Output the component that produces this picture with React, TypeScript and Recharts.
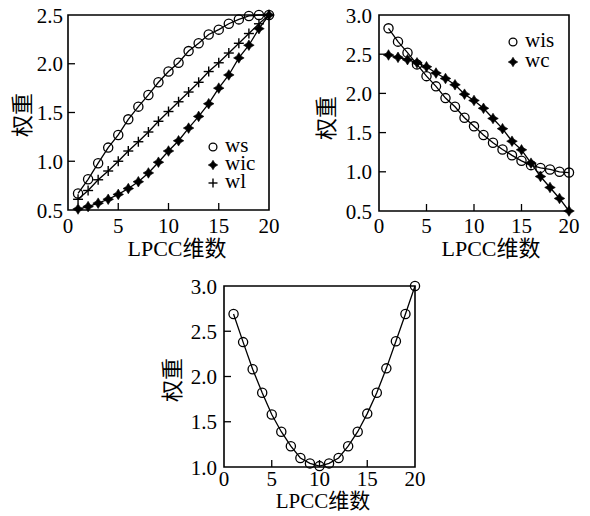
import { LineChart, Line, XAxis, YAxis, ReferenceArea } from 'recharts';

// ─── Data ──────────────────────────────────────────────────────────────────────
const dims = [1, 2, 3, 4, 5, 6, 7, 8, 9, 10, 11, 12, 13, 14, 15, 16, 17, 18, 19, 20];

const ws  = [0.67, 0.815, 0.98, 1.14, 1.27, 1.43, 1.56, 1.68, 1.81, 1.92, 2.01, 2.13, 2.21, 2.3, 2.35, 2.41, 2.455, 2.49, 2.5, 2.5];
const wic = [0.51, 0.535, 0.57, 0.61, 0.66, 0.72, 0.79, 0.88, 0.99, 1.105, 1.21, 1.34, 1.46, 1.59, 1.75, 1.885, 2.06, 2.19, 2.36, 2.5];
const wl  = [0.61, 0.7, 0.81, 0.9, 1.0, 1.105, 1.2, 1.3, 1.41, 1.51, 1.61, 1.71, 1.81, 1.92, 2.01, 2.11, 2.21, 2.31, 2.41, 2.5];

const wis = [2.83, 2.66, 2.52, 2.37, 2.22, 2.09, 1.94, 1.83, 1.69, 1.58, 1.47, 1.37, 1.285, 1.21, 1.14, 1.085, 1.05, 1.03, 1.0, 0.99];
const wc  = [2.49, 2.46, 2.43, 2.39, 2.34, 2.26, 2.19, 2.11, 1.99, 1.91, 1.81, 1.68, 1.55, 1.39, 1.28, 1.11, 0.94, 0.8, 0.66, 0.5];

const wm  = [2.69, 2.38, 2.08, 1.82, 1.58, 1.39, 1.23, 1.1, 1.04, 1.01, 1.04, 1.1, 1.23, 1.39, 1.59, 1.82, 2.09, 2.39, 2.69, 3.0];

const xTicks   = [0, 5, 10, 15, 20];
const yTicksA  = [0.5, 1.0, 1.5, 2.0, 2.5];
const yTicksB  = [0.5, 1.0, 1.5, 2.0, 2.5, 3.0];
const yTicksC  = [1.0, 1.5, 2.0, 2.5, 3.0];

const X_LABEL = 'LPCC维数';
const Y_LABEL = '权重';

const FONT = '"Liberation Serif", "Times New Roman", "Noto Sans CJK SC", serif';
const CJK_FONT = '"Liberation Serif", "Noto Sans CJK SC", serif';

type Kind = 'circle' | 'star' | 'plus';

// ─── Markers ───────────────────────────────────────────────────────────────────
function Marker({ kind, cx, cy, s = 1 }: { kind: Kind; cx: number; cy: number; s?: number }) {
  if (cx == null || cy == null) return null;
  if (kind === 'circle') {
    return <circle cx={cx} cy={cy} r={4.6 * s} fill="none" stroke="#000" strokeWidth={1.3} />;
  }
  if (kind === 'plus') {
    const r = 5 * s;
    return (
      <g stroke="#000" strokeWidth={1.4}>
        <line x1={cx - r} x2={cx + r} y1={cy} y2={cy} />
        <line x1={cx} x2={cx} y1={cy - r} y2={cy + r} />
      </g>
    );
  }
  const o = 5.3 * s, i = 2 * s;
  const d = `M${cx},${cy - o} L${cx + i},${cy - i} L${cx + o},${cy} L${cx + i},${cy + i} L${cx},${cy + o} L${cx - i},${cy + i} L${cx - o},${cy} L${cx - i},${cy - i} Z`;
  return <path d={d} fill="#000" stroke="#000" strokeWidth={0.6} />;
}

// ─── Ticks (drawn inward, like the source figure) ──────────────────────────────
const makeXTick = (dy: number, ends: number[]) => (props: any) => {
  const { x, y, payload } = props;
  const v = payload.value;
  return (
    <g>
      {!ends.includes(v) && <line x1={x} x2={x} y1={y} y2={y - 7} stroke="#000" strokeWidth={1.3} />}
      <text x={x} y={y + dy} textAnchor="middle" fontFamily={FONT} fontSize={21} fill="#000">{v}</text>
    </g>
  );
};

const makeYTick = (gap: number, ends: number[]) => (props: any) => {
  const { x, y, payload } = props;
  const v = payload.value;
  return (
    <g>
      {!ends.includes(v) && <line x1={x} x2={x + 7} y1={y} y2={y} stroke="#000" strokeWidth={1.3} />}
      <text x={x - gap} y={y} dy="0.36em" textAnchor="end" fontFamily={FONT} fontSize={21} fill="#000">
        {Number(v).toFixed(1)}
      </text>
    </g>
  );
};

// ─── One panel ─────────────────────────────────────────────────────────────────
interface Series { key: string; kind: Kind; }

function Panel({
  left, top, width, height, margin, data, series, yDomain, yTicks, xDy, yGap,
}: {
  left: number; top: number; width: number; height: number;
  margin: { top: number; right: number; bottom: number; left: number };
  data: any[]; series: Series[]; yDomain: [number, number]; yTicks: number[];
  xDy: number; yGap: number;
}) {
  return (
    <div style={{ position: 'absolute', left, top }}>
      <LineChart width={width} height={height} data={data} margin={margin}>
        <XAxis
          dataKey="d" type="number" domain={[0, 20]} ticks={xTicks}
          axisLine={false} tickLine={false} tickSize={0} tickMargin={0} height={30}
          tick={makeXTick(xDy, [0, 20])} interval={0}
        />
        <YAxis
          type="number" domain={yDomain} ticks={yTicks}
          axisLine={false} tickLine={false} tickSize={0} tickMargin={0} width={50}
          tick={makeYTick(yGap, yDomain)} interval={0}
        />
        {series.map(s => (
          <Line
            key={s.key} dataKey={s.key} type="linear" stroke="#000" strokeWidth={1.3}
            isAnimationActive={false}
            dot={(p: any) => <Marker key={`${s.key}-${p.index}`} kind={s.kind} cx={p.cx} cy={p.cy} />}
            activeDot={false}
          />
        ))}
        <ReferenceArea
          x1={0} x2={20} y1={yDomain[0]} y2={yDomain[1]}
          fill="none" fillOpacity={0} stroke="#000" strokeWidth={1.6} ifOverflow="visible"
        />
      </LineChart>
    </div>
  );
}

function TextAt({ x, y, text, rotate = false, size = 22 }: { x: number; y: number; text: string; rotate?: boolean; size?: number }) {
  return (
    <div
      style={{
        position: 'absolute', left: x, top: y, whiteSpace: 'nowrap', lineHeight: 1,
        fontFamily: CJK_FONT, fontSize: size, color: '#000',
        transform: `translate(-50%, -50%)${rotate ? ' rotate(-90deg)' : ''}`,
      }}
    >
      {text}
    </div>
  );
}

function LegendBox({ x, y, rowH, items }: { x: number; y: number; rowH: number; items: { label: string; kind: Kind }[] }) {
  return (
    <div style={{ position: 'absolute', left: x, top: y }}>
      {items.map(it => (
        <div key={it.label} style={{ display: 'flex', alignItems: 'center', height: rowH, lineHeight: 1 }}>
          <svg width={16} height={16} style={{ marginRight: 4 }}>
            <Marker kind={it.kind} cx={8} cy={8} s={it.kind === 'circle' ? 0.85 : 0.9} />
          </svg>
          <span
            style={{
              display: 'inline-block', height: rowH - 2, lineHeight: `${rowH - 2}px`, overflow: 'visible',
              fontFamily: FONT, fontSize: 21, position: 'relative', top: -2,
            }}
          >
            {it.label}
          </span>
        </div>
      ))}
    </div>
  );
}

export default function App() {
  const dataA = dims.map((d, i) => ({ d, ws: ws[i], wic: wic[i], wl: wl[i] }));
  const dataB = dims.map((d, i) => ({ d, wis: wis[i], wc: wc[i] }));
  const dataC = dims.map((d, i) => ({ d, w: wm[i] }));

  return (
    <div style={{ position: 'absolute', left: 0, top: 0, width: 590, height: 516, background: '#fff' }}>
      <Panel
        left={0} top={0} width={290} height={260}
        margin={{ top: 15, right: 21, bottom: 20, left: 18 }}
        data={dataA}
        series={[{ key: 'ws', kind: 'circle' }, { key: 'wl', kind: 'plus' }, { key: 'wic', kind: 'star' }]}
        yDomain={[0.5, 2.5]} yTicks={yTicksA} xDy={23} yGap={5}
      />
      <Panel
        left={300} top={0} width={290} height={260}
        margin={{ top: 15, right: 21, bottom: 19, left: 29 }}
        data={dataB}
        series={[{ key: 'wis', kind: 'circle' }, { key: 'wc', kind: 'star' }]}
        yDomain={[0.5, 3.0]} yTicks={yTicksB} xDy={22} yGap={7}
      />
      <Panel
        left={150} top={270} width={300} height={246}
        margin={{ top: 16, right: 35, bottom: 19, left: 24 }}
        data={dataC}
        series={[{ key: 'w', kind: 'circle' }]}
        yDomain={[1.0, 3.0]} yTicks={yTicksC} xDy={19} yGap={7}
      />

      <LegendBox x={205} y={138} rowH={18} items={[
        { label: 'ws', kind: 'circle' }, { label: 'wic', kind: 'star' }, { label: 'wl', kind: 'plus' },
      ]} />
      <LegendBox x={505} y={32} rowH={20} items={[
        { label: 'wis', kind: 'circle' }, { label: 'wc', kind: 'star' },
      ]} />

      <TextAt x={177} y={249} text={X_LABEL} />
      <TextAt x={491} y={249} text={X_LABEL} />
      <TextAt x={323} y={501} text={X_LABEL} size={21} />
      <TextAt x={23} y={115} text={Y_LABEL} rotate />
      <TextAt x={327} y={118} text={Y_LABEL} rotate />
      <TextAt x={173} y={380} text={Y_LABEL} rotate />
    </div>
  );
}
